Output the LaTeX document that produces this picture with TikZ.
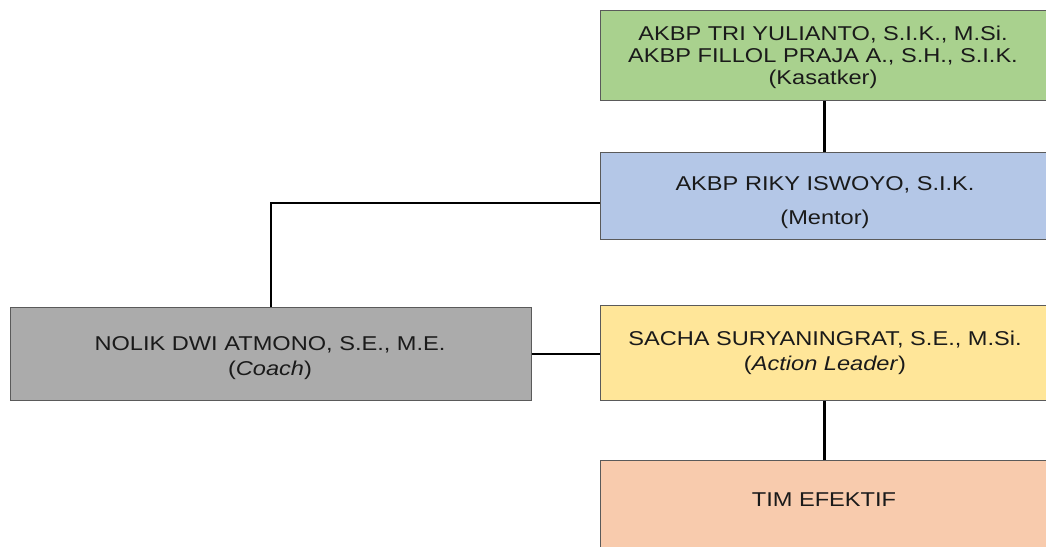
\documentclass[tikz,border=0pt]{standalone}
\usepackage{fontspec}
\setmainfont[FakeStretch=1.18]{Liberation Sans}
\usetikzlibrary{calc}
\definecolor{cgreen}{HTML}{A9D18E}
\definecolor{cblue}{HTML}{B4C7E7}
\definecolor{cyellow}{HTML}{FFE699}
\definecolor{corange}{HTML}{F8CBAD}
\definecolor{cgray}{HTML}{ABABAB}
\definecolor{cborder}{HTML}{5A5A5A}
\definecolor{ctext}{HTML}{1A1A1A}
\begin{document}
\begin{tikzpicture}[x=1pt,y=-1pt,
  box/.style={draw=cborder, line width=0.9pt, rectangle, inner sep=0pt, anchor=north west},
  txt/.style={inner sep=0pt, align=center, text=ctext},
  conn/.style={draw=black, line width=2.8pt}]
\useasboundingbox (0,0) rectangle (1046,546);
\fill[white] (0,0) rectangle (1046,546);
% boxes
\node[box, fill=cgreen, minimum width=448pt, minimum height=90pt] (kasatker) at (600,10) {};
\node[box, fill=cblue, minimum width=448pt, minimum height=87pt] (mentor) at (600,152) {};
\node[box, fill=cyellow, minimum width=448pt, minimum height=95pt] (action) at (600,305) {};
\node[box, fill=cgray, minimum width=521pt, minimum height=93pt] (coach) at (10,307) {};
\node[box, fill=corange, minimum width=448pt, minimum height=100pt] (team) at (600,460) {};
% texts
\node[txt, font=\fontsize{20}{22}\selectfont] (kasatkerT) at (823,57)
  {AKBP TRI YULIANTO, S.I.K., M.Si.\\AKBP FILLOL PRAJA A., S.H., S.I.K.\\(Kasatker)};
\node[txt, font=\fontsize{20}{34}\selectfont] (mentorT) at (825,202.5)
  {AKBP RIKY ISWOYO, S.I.K.\\(Mentor)};
\node[txt, font=\fontsize{20}{25}\selectfont] (actionT) at (825,352.5)
  {SACHA SURYANINGRAT, S.E., M.Si.\\(\textit{Action Leader})};
\node[txt, font=\fontsize{20}{25}\selectfont] (coachT) at (270,358.3)
  {NOLIK DWI ATMONO, S.E., M.E.\\(\textit{Coach})};
\node[txt, font=\fontsize{20}{22}\selectfont] (teamT) at (824,500) {TIM EFEKTIF};
% connectors
\draw[conn] (kasatker.south) -- (mentor.north);
\draw[conn] ($(mentor.north west)!0.58!(mentor.south west)$) -| (coach.north);
\draw[conn] (coach.east) -- (coach.east -| action.west);
\draw[conn] (action.south) -- (team.north);
\end{tikzpicture}
\end{document}
